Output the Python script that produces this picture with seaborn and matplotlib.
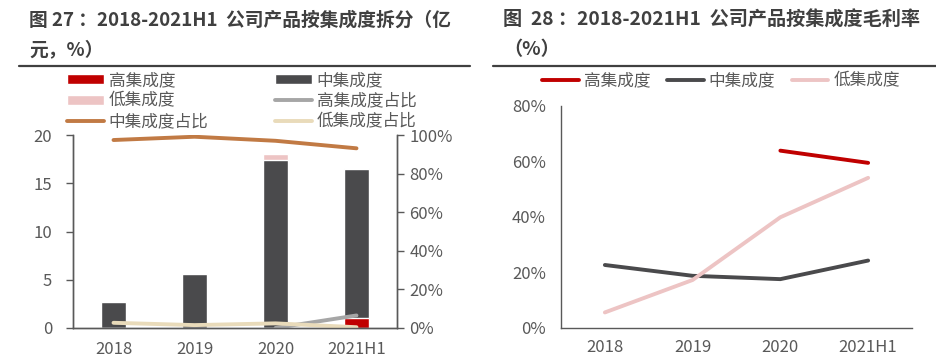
import matplotlib
matplotlib.use('Agg')
import matplotlib.pyplot as plt
import numpy as np
import pandas as pd
import seaborn as sns
from matplotlib.lines import Line2D
from matplotlib.patches import Patch

sns.set_style('white')
plt.rcParams['font.family'] = ['Noto Sans CJK SC', 'DejaVu Sans']

# Data
years = ['2018', '2019', '2020', '2021H1']
high = [0.0, 0.0, 0.0, 1.0]          # 高集成度, 亿元
mid = [2.65, 5.55, 17.45, 15.5]      # 中集成度
low = [0.15, 0.18, 0.55, 0.1]        # 低集成度
high_pct = [np.nan, np.nan, 0.0, 6.5]      # 高集成度占比, %
mid_pct = [97.4, 99.1, 97.0, 93.1]         # 中集成度占比
low_pct = [2.7, 1.5, 2.4, 0.4]             # 低集成度占比

gm_high = [np.nan, np.nan, 63.8, 59.4]     # 毛利率, %
gm_mid = [22.6, 18.7, 17.5, 24.2]
gm_low = [5.5, 17.2, 39.8, 54.0]

C_HIGH = '#C00000'
C_MID = '#4A4A4C'
C_LOW = '#EDC4C4'
C_HP = '#A6A6A6'
C_MP = '#C17A44'
C_LP = '#E9DBBA'
TXT = '#595959'
SPINE = '#595959'

df = pd.DataFrame({'year': years, 'high': high, 'mid': mid, 'low': low})
df['hm'] = df['high'] + df['mid']
df['total'] = df['hm'] + df['low']

fig = plt.figure(figsize=(9.37, 3.59), dpi=100)

# titles and separator lines
tkw = dict(fontweight='bold', color='#404040', va='center')
fig.text(29 / 937, 1 - 20 / 359, '图 27 ：2018-2021H1  公司产品按集成度拆分（亿',
         fontsize=13.5, **tkw)
fig.text(29 / 937, 1 - 50 / 359, '元，%）', fontsize=13.5, **tkw)
fig.text(503 / 937, 1 - 20 / 359, '图  28 ：2018-2021H1  公司产品按集成度毛利率',
         fontsize=13.8, **tkw)
fig.text(503 / 937, 1 - 50 / 359, '（%）', fontsize=13.8, **tkw)
fig.add_artist(Line2D([19 / 937, 470 / 937], [1 - 66 / 359] * 2, color='#404040', lw=1.6))
fig.add_artist(Line2D([493 / 937, 1.0], [1 - 66 / 359] * 2, color='#404040', lw=1.6))

# ---- left chart: stacked bars + share lines
ax1 = fig.add_axes([73 / 937, 1 - 328 / 359, 324 / 937, 193 / 359])
bw = 0.32
sns.barplot(data=df, x='year', y='total', color=C_LOW, width=bw, saturation=1, ax=ax1)
sns.barplot(data=df, x='year', y='hm', color=C_MID, width=bw, saturation=1, ax=ax1)
sns.barplot(data=df, x='year', y='high', color=C_HIGH, width=bw, saturation=1, ax=ax1)
ax1.set_ylim(0, 20)
ax1.set_yticks([0, 5, 10, 15, 20])
ax1.set_xlim(-0.5, 3.5)
ax1.set_xlabel('')
ax1.set_ylabel('')

ax2 = ax1.twinx()
pos = np.arange(len(years))
sns.lineplot(x=pos, y=high_pct, color=C_HP, lw=2.8, ax=ax2)
sns.lineplot(x=pos, y=mid_pct, color=C_MP, lw=2.8, ax=ax2)
sns.lineplot(x=pos, y=low_pct, color=C_LP, lw=2.8, ax=ax2)
ax2.set_ylim(0, 100)
ax2.set_yticks(range(0, 101, 20))
ax2.set_yticklabels([f'{v}%' for v in range(0, 101, 20)])
ax2.set_xlim(-0.5, 3.5)

for a in (ax1, ax2):
    a.spines['top'].set_visible(False)
    for s in ('left', 'right', 'bottom'):
        a.spines[s].set_color(SPINE)
        a.spines[s].set_linewidth(1.0)
    a.tick_params(axis='y', length=5, width=1.0, color=SPINE, labelsize=12,
                  labelcolor=TXT, pad=4, direction='out')
    a.tick_params(axis='x', length=0, labelsize=12, labelcolor=TXT, pad=9)
    a.grid(False)
ax1.tick_params(axis='y', pad=10)

handles1 = [
    Patch(facecolor=C_HIGH, label='高集成度'),
    Patch(facecolor=C_LOW, label='低集成度'),
    Line2D([], [], color=C_MP, lw=2.8, label='中集成度占比'),
    Patch(facecolor=C_MID, label='中集成度'),
    Line2D([], [], color=C_HP, lw=2.8, label='高集成度占比'),
    Line2D([], [], color=C_LP, lw=2.8, label='低集成度占比'),
]
fig.legend(handles=handles1, ncol=2, loc='upper left',
           bbox_to_anchor=(57 / 937, 1 - 62 / 359), frameon=False,
           fontsize=12, handlelength=2.2, handleheight=0.6,
           handletextpad=0.3, columnspacing=4.0, labelspacing=0.22,
           borderpad=0.1, labelcolor=TXT)

# ---- right chart: gross margin lines
ax3 = fig.add_axes([561 / 937, 1 - 327.7 / 359, 351 / 937, 222 / 359])
sns.lineplot(x=pos, y=gm_high, color=C_HIGH, lw=2.8, ax=ax3, label='高集成度')
sns.lineplot(x=pos, y=gm_mid, color=C_MID, lw=2.8, ax=ax3, label='中集成度')
sns.lineplot(x=pos, y=gm_low, color=C_LOW, lw=2.8, ax=ax3, label='低集成度')
ax3.set_xlim(-0.5, 3.5)
ax3.set_ylim(0, 80)
ax3.set_xticks(pos)
ax3.set_xticklabels(years)
ax3.set_yticks(range(0, 81, 20))
ax3.set_yticklabels([f'{v}%' for v in range(0, 81, 20)])
ax3.spines['top'].set_visible(False)
ax3.spines['right'].set_visible(False)
for s in ('left', 'bottom'):
    ax3.spines[s].set_color(SPINE)
    ax3.spines[s].set_linewidth(1.0)
ax3.tick_params(axis='y', length=5, width=1.0, color=SPINE, labelsize=12,
                labelcolor=TXT, pad=6, direction='out')
ax3.tick_params(axis='x', length=0, labelsize=12, labelcolor=TXT, pad=8)
ax3.legend_.remove()
fig.legend(handles=ax3.get_lines()[:3], labels=['高集成度', '中集成度', '低集成度'],
           ncol=3, loc='center left', bbox_to_anchor=(532 / 937, 1 - 81 / 359),
           frameon=False, fontsize=12, handlelength=2.2, handletextpad=0.3,
           columnspacing=1.0, borderpad=0.1, labelcolor=TXT)

fig.savefig('out.png', dpi=100)
